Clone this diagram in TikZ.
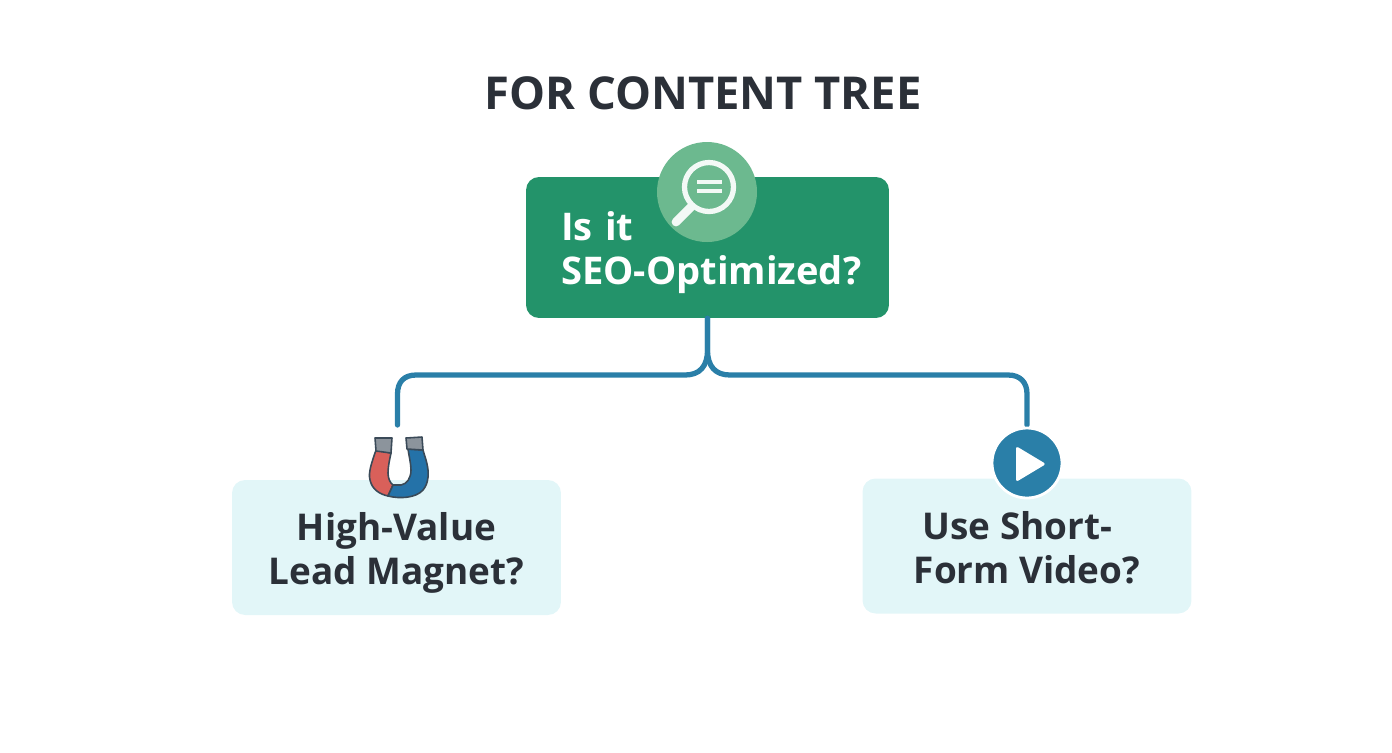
\documentclass[tikz,border=0pt]{standalone}
\usepackage{fontspec}
\setmainfont{Open Sans}
\usepackage{xcolor}
\definecolor{rootgreen}{HTML}{23936A}
\definecolor{icongreen}{HTML}{6CB98F}
\definecolor{paleblue}{HTML}{E2F6F8}
\definecolor{linkblue}{HTML}{2A7FA8}
\definecolor{inkdark}{HTML}{2B3038}
\definecolor{magnetred}{HTML}{D9605A}
\definecolor{magnetblue}{HTML}{2472A8}
\definecolor{magnetgrey}{HTML}{8C949C}
\definecolor{magnetedge}{HTML}{3A4A58}
\tikzset{
    rootbox/.style = {fill=rootgreen, rounded corners=.26cm, minimum height=2.82cm, text width=5.86cm, inner xsep=.7cm, inner ysep=0pt, align=left, text=white, font=\fontsize{21.7}{25}\selectfont\bfseries},
    leafbox/.style = {fill=paleblue, rounded corners=.26cm, minimum width=6.58cm, minimum height=2.7cm, inner sep=0pt, align=center, text=inkdark, font=\fontsize{21}{25}\selectfont\bfseries},
    branch/.style = {line width=3pt, color=linkblue, line cap=round},
}
\begin{document}
\begin{tikzpicture}[x=.02cm,y=-.02cm]
    \useasboundingbox (0,0) rectangle (1392,752);
    \node[text=inkdark,font=\fontsize{25.8}{30}\selectfont\bfseries] (title) at (703,93.5) {FOR CONTENT TREE};
    \node[rootbox] (root) at (707.5,247.5) {\rule{0pt}{22pt}Is it\\\mbox{SEO-Optimized?}};
    \node[leafbox] (lead) at (396.5,547.5) {\rule{0pt}{22pt}High-Value\\Lead Magnet?};
    \node[leafbox] (video) at (1027,546) {\rule{0pt}{18pt}Use Short-\hspace*{11pt}\\Form Video?};
    \coordinate (leadend) at (397.5,425);
    \coordinate (videoend) at (1027,425);
    % Links
    \draw[branch] (root.south) -- (707.5,350) .. controls (707.5,366) and (700,375) .. (685,375) -- (416,375) .. controls (404,375) and (397.5,382) .. (397.5,394) -- (leadend);
    \draw[branch] (root.south) -- (707.5,350) .. controls (707.5,366) and (715,375) .. (730,375) -- (1008,375) .. controls (1020,375) and (1027,382) .. (1027,394) -- (videoend);
    % Search icon
    \fill[icongreen] (707,192) circle (50);
    \draw[line width=3pt,color=white!92!icongreen] (709,187) circle (24.5);
    \draw[line width=5pt,line cap=round,color=white!92!icongreen] (676,222) -- (691,207);
    \draw[line width=1.8pt,color=white!92!icongreen] (697,182) -- (722,182);
    \draw[line width=1.8pt,color=white!92!icongreen] (697,191) -- (722,191);
    % Magnet icon
    \draw[line width=.9pt,color=magnetedge,fill=magnetred,line join=round] (376,450) .. controls (372,462) and (368,472) .. (370,480) .. controls (372,489) and (379,494) .. (388,496) -- (393,485) .. controls (390,483) and (388,478) .. (388,473) .. controls (388,466) and (390,458) .. (391,453) -- cycle;
    \draw[line width=.9pt,color=magnetedge,fill=magnetblue,line join=round] (388,496) .. controls (400,499) and (416,498) .. (423,490) .. controls (429,483) and (429,472) .. (427,464) .. controls (426,459) and (424,454) .. (423,450) -- (408,449) .. controls (409,456) and (411,464) .. (411,470) .. controls (411,478) and (407,484) .. (401,485) -- (393,485) -- cycle;
    \draw[line width=.9pt,color=magnetedge,fill=magnetgrey,line join=round] (376,451) -- (375,438) -- (392,438) -- (391,453) -- cycle;
    \draw[line width=.9pt,color=magnetedge,fill=magnetgrey,line join=round] (407,449) -- (406,438) -- (422,437) -- (423,450) -- cycle;
    % Play icon
    \draw[line width=1.6pt,color=white,fill=linkblue] (1027,463) circle (35);
    \fill[white,rounded corners=1.5pt] (1016,446) -- (1046,464) -- (1016,482) -- cycle;
\end{tikzpicture}
\end{document}
